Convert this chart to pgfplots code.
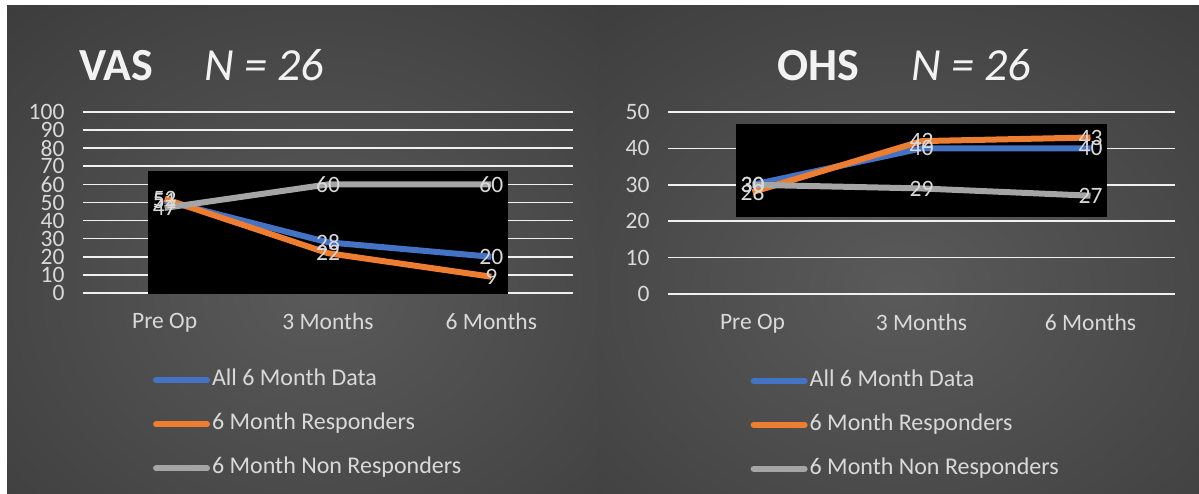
\documentclass[border=0pt]{standalone}
\usepackage{fontspec}
\setmainfont{Carlito}
\usepackage{pgfplots}
\usepackage{pgfplotstable}
\pgfplotsset{compat=1.18}
\definecolor{cblue}{HTML}{4472C4}
\definecolor{corange}{HTML}{ED7D31}
\definecolor{cgray}{HTML}{A5A5A5}
\definecolor{txt}{HTML}{D9D9D9}
\definecolor{ttl}{HTML}{F2F2F2}
\definecolor{bgin}{HTML}{5A5A5A}
\definecolor{bgout}{HTML}{252525}
\pgfdeclareradialshading{bgshade}{\pgfpointorigin}{color(0bp)=(bgin); color(50bp)=(bgout)}
\newcommand{\fs}{\fontsize{23.5}{27}\selectfont}
\newcommand{\fl}{\fontsize{24}{28}\selectfont}

\pgfplotstableread{
x blue orange gray
0 51 52 47
1 28 22 60
2 20 9 60
}\vas
\pgfplotstableread{
x blue orange gray
0 30 28 30
1 40 42 29
2 40 43 27
}\ohs

\pgfplotsset{
 /pgf/number format/assume math mode=true,
 panel/.style={
  scale only axis, clip=false,
  xmin=-0.5, xmax=2.5, xtick={0,1,2}, xticklabels={Pre Op,3 Months,6 Months},
  axis line style={draw=none}, tick style={draw=none},
  ymajorgrids, grid style={draw=white!94!black, line width=1.6pt},
  tick label style={font=\fs, text=txt},
  xticklabel style={yshift=-17pt},
  yticklabel style={xshift=-15pt},
  legend cell align=left,
  legend style={draw=none, fill=none, inner sep=0pt, outer sep=0pt, anchor=north west, font=\fl, text=txt, row sep=25pt, nodes={inner sep=0pt, text height=15pt, text depth=4pt}, /tikz/every odd column/.append style={column sep=2pt}},
  legend image code/.code={\draw[##1, line width=6pt, line cap=round] (3pt,0pt) -- (54pt,0pt);},
  every axis plot/.append style={line width=6pt, line join=round, no markers},
  nodes near coords,
  nodes near coords style={anchor=center, font=\fs, text=txt},
 }
}

\begin{document}
\begin{tikzpicture}[x=1pt,y=1pt]
\fill[white] (0,0) rectangle (1199,494);
\begin{scope}
\clip (7,0) rectangle (598,488);
\shade[shading=bgshade] (-100,-146) rectangle (740,554);
\end{scope}
\begin{scope}
\clip (598,0) rectangle (1199,488);
\shade[shading=bgshade] (460,-146) rectangle (1340,554);
\end{scope}
\node[anchor=base west, inner sep=0, text=ttl, font=\fontsize{46}{46}\selectfont\bfseries] at (79,413) {VAS};
\node[anchor=base west, inner sep=0, text=ttl, font=\fontsize{46}{46}\selectfont\itshape] at (204,413) {N = 26};
\node[anchor=base west, inner sep=0, text=ttl, font=\fontsize{46}{46}\selectfont\bfseries] at (777,413) {OHS};
\node[anchor=base west, inner sep=0, text=ttl, font=\fontsize{46}{46}\selectfont\itshape] at (911,413) {N = 26};

\begin{axis}[panel, at={(83pt,201pt)}, anchor=south west, width=490pt, height=181pt,
  ymin=0, ymax=100, ytick={0,10,...,100},
  legend style={at={(axis description cs:0.143,-0.43)}}]
\fill[black] (axis cs:-0.1,-0.5) rectangle (axis cs:2.1,67.2);
\addplot[cblue] table[x=x,y=blue]{\vas};
\addlegendentry{All 6 Month Data}
\addplot[corange] table[x=x,y=orange]{\vas};
\addlegendentry{6 Month Responders}
\addplot[cgray] table[x=x,y=gray]{\vas};
\addlegendentry{6 Month Non Responders}
\end{axis}

\begin{axis}[panel, at={(668pt,200pt)}, anchor=south west, width=507pt, height=182pt,
  ymin=0, ymax=50, ytick={0,10,...,50},
  legend style={at={(axis description cs:0.163,-0.425)}}]
\fill[black] (axis cs:-0.1,21.2) rectangle (axis cs:2.1,46.7);
\addplot[cblue] table[x=x,y=blue]{\ohs};
\addlegendentry{All 6 Month Data}
\addplot[corange] table[x=x,y=orange]{\ohs};
\addlegendentry{6 Month Responders}
\addplot[cgray] table[x=x,y=gray]{\ohs};
\addlegendentry{6 Month Non Responders}
\end{axis}
\end{tikzpicture}
\end{document}
